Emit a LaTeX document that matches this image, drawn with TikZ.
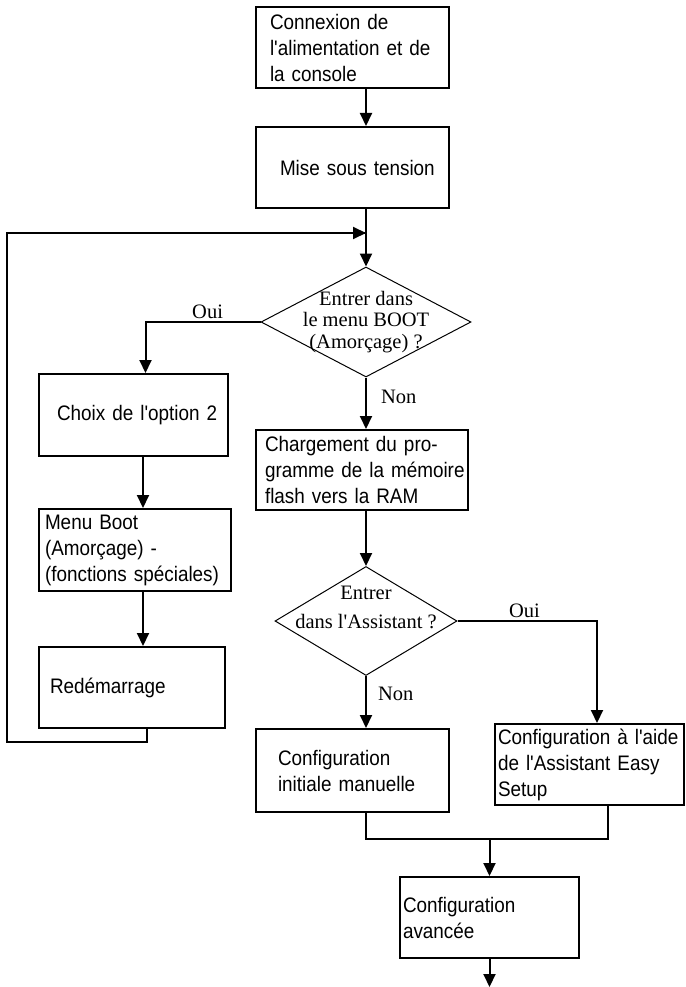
\documentclass[tikz,border=0pt]{standalone}
\usepackage{fontspec}
\usepackage{tikz}
\usetikzlibrary{positioning,shapes.geometric,arrows.meta}
\newfontfamily\boxfont[FakeStretch=0.9]{Liberation Sans}
\newfontfamily\diafont{Liberation Serif}
\newcommand{\boxline}[1]{\mbox{#1}}

\begin{document}
\begin{tikzpicture}[x=1pt, y=-1pt,
			box/.style={rectangle, draw=black, line width=2pt, align=left, inner ysep=0pt, font=\boxfont\fontsize{21}{26}\selectfont},
			decision/.style={diamond, draw=black, line width=1pt, inner sep=0pt, font=\diafont\fontsize{20.5}{21.5}\selectfont},
			flow/.style={line width=2pt, -{Triangle[length=13pt, width=12pt]}},
			wire/.style={line width=2pt},
			answer/.style={font=\diafont\fontsize{20.5}{22}\selectfont, inner sep=2pt},
			]
			\useasboundingbox (0,0) rectangle (685,987);
			%Nodes
				% main column
				\node[box, minimum height=81pt, inner xsep=14pt, text width=165pt]	(conn)		at (352.5,47.5)		{\boxline{Connexion de}\\\boxline{l'alimentation et de}\\\boxline{la console}};
				\node[box, minimum height=81pt, inner xsep=24pt, text width=145pt]	(power)		at (352.5,167.5)	{\boxline{Mise sous tension}\\[-6pt]};
				\node[decision, minimum width=210pt, minimum height=110pt, label={[align=center, font=\diafont\fontsize{20.5}{21.5}\selectfont]center:{Entrer dans\\le menu BOOT\\(Amorçage) ?}}]	(ask1)	at (366,322)	{};
				\node[box, minimum height=80pt, inner xsep=9pt, text width=194pt]	(charg)		at (362,470)		{\boxline{Chargement du pro-}\\\boxline{gramme de la mémoire}\\\boxline{flash vers la RAM}};
				\node[decision, minimum width=182pt, minimum height=109pt, label={[align=center, yshift=13.5pt, font=\diafont\fontsize{20.5}{29}\selectfont]center:{Entrer\\dans l'Assistant ?}}]	(ask2)	at (366,621)	{};
				\node[box, minimum height=83pt, inner xsep=22pt, text width=149pt]	(manual)	at (352.5,770.5)	{\boxline{Configuration}\\\boxline{initiale manuelle}};
				\node[box, minimum height=81pt, inner xsep=3pt, text width=183pt]	(easy)		at (589.5,764.5)	{\boxline{Configuration à l'aide}\\\boxline{de l'Assistant Easy}\\\boxline{Setup}};
				\node[box, minimum height=81pt, inner xsep=3pt, text width=173pt]	(adv)		at (489.5,917.5)	{\boxline{Configuration}\\\boxline{avancée}\\[4pt]};
				% boot menu column
				\node[box, minimum height=82pt, inner xsep=18pt, text width=153pt]	(choix)		at (133.5,415)		{\boxline{Choix de l'option 2}\\[-8pt]};
				\node[box, minimum height=82pt, inner xsep=6pt, text width=180pt]	(menu)		at (135,550)		{\boxline{Menu Boot}\\\boxline{(Amorçage) -}\\\boxline{(fonctions spéciales)}};
				\node[box, minimum height=81pt, inner xsep=11pt, text width=164pt]	(redem)		at (132,687.5)		{\boxline{Redémarrage}};
				% ghost points for the loop and the join
				\coordinate	(loopA)		at (147,742);
				\coordinate	(loopB)		at (7,742);
				\coordinate	(loopC)		at (7,233);
				\coordinate	(loopD)		at (366,233);
				\coordinate	(joinL)		at (366,839);
				\coordinate	(joinR)		at (608,839);
				\coordinate	(exit)		at (490,987);

			%Lines
				% main column
				\draw[flow] (conn.south -| loopD) -- (power.north -| loopD);
				\draw[flow] (power.south -| loopD) -- (ask1.north);
				\draw[flow] (ask1.south) -- node[answer, pos=0.38, anchor=west, xshift=12pt] {Non} (ask1.south |- charg.north);
				\draw[flow] (charg.south -| ask2.north) -- (ask2.north);
				\draw[flow] (ask2.south) -- node[answer, pos=0.35, anchor=west, xshift=9pt] {Non} (ask2.south |- manual.north);
				\draw[flow] (ask2.east) -| node[answer, pos=0.24, above] {Oui} ([xshift=7.5pt]easy.north);
				% join
				\draw[wire] (manual.south -| joinL) -- (joinL) -- (joinR) -- (joinR |- easy.south);
				\draw[flow] (joinL -| adv.north) -- (adv.north);
				\draw[flow] (adv.south) -- (adv.south |- exit);
				% boot menu column
				\draw[flow] (ask1.west) -| node[answer, pos=0.23, above] {Oui} ([xshift=12pt]choix.north);
				\draw[flow] ([xshift=9.5pt]choix.south) -- ([xshift=8pt]menu.north);
				\draw[flow] ([xshift=8pt]menu.south) -- ([xshift=11pt]redem.north);
				% loop back
				\draw[wire] ([xshift=15pt]redem.south) -- (loopA) -- (loopB) -- (loopC) -- (loopD);
				\draw[flow] (loopC) -- (loopD);
		\end{tikzpicture}
\end{document}
